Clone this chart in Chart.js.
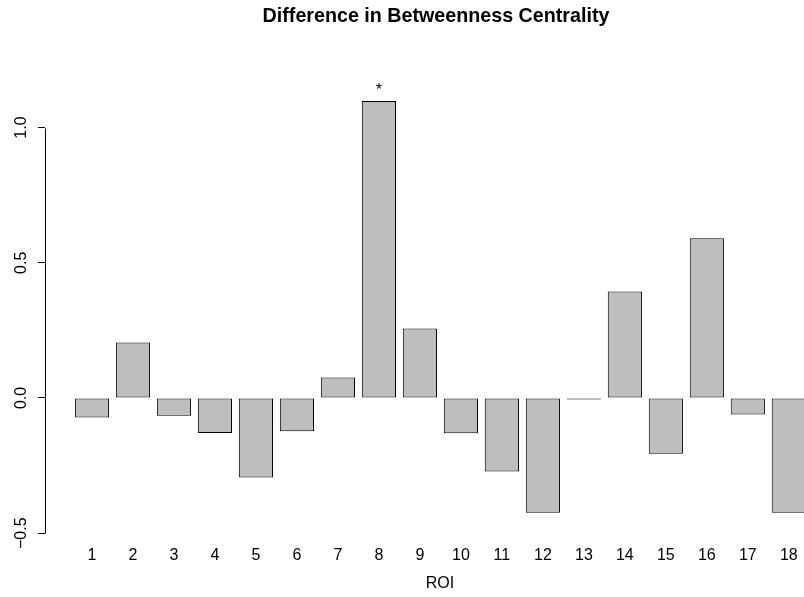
<!DOCTYPE html>
<html>
<head>
<meta charset="utf-8">
<script src="https://cdn.jsdelivr.net/npm/chart.js@4.4.1/dist/chart.umd.min.js"></script>
<style>
  html, body { margin: 0; padding: 0; background: #ffffff; }
  #wrap { width: 804px; height: 597px; }
</style>
</head>
<body>
<div id="wrap"><canvas id="c" width="804" height="597"></canvas></div>
<script>
// ---- data ----
const categories = ['1','2','3','4','5','6','7','8','9','10','11','12','13','14','15','16','17','18'];
const values = [-0.072, 0.205, -0.066, -0.129, -0.294, -0.123, 0.076, 1.098, 0.257, -0.130, -0.272, -0.424, -0.006, 0.394, -0.206, 0.591, -0.061, -0.424];
const marks = ['', '', '', '', '', '', '', '*', '', '', '', '', '', '', '', '', '', ''];
const yTickValues = [-0.5, 0, 0.5, 1.0];
const yTickLabels = ['\u22120.5', '0.0', '0.5', '1.0'];
const chartTitle = 'Difference in Betweenness Centrality';
const xTitle = 'ROI';

const FONT = '"Liberation Sans", Arial, Helvetica, sans-serif';

// R-style axis: line only spans the tick range, rotated tick labels,
// titles centred over the (partly cropped) plot region, significance marks
const rAxisPlugin = {
  id: 'rAxis',
  afterDraw(chart) {
    const ctx = chart.ctx;
    const y = chart.scales.y;
    const x = Math.round(y.right) + 0.5;
    const top = y.getPixelForValue(yTickValues[yTickValues.length - 1]);
    const bot = y.getPixelForValue(yTickValues[0]);
    ctx.save();
    ctx.strokeStyle = '#000';
    ctx.lineWidth = 1;
    ctx.beginPath();
    ctx.moveTo(x, Math.round(top) + 0.5);
    ctx.lineTo(x, Math.round(bot) + 0.5);
    ctx.stroke();
    ctx.fillStyle = '#000';
    ctx.font = '16px ' + FONT;
    ctx.textAlign = 'center';
    ctx.textBaseline = 'middle';
    yTickValues.forEach((v, i) => {
      const py = y.getPixelForValue(v);
      ctx.save();
      ctx.translate(y.right - 23, py);
      ctx.rotate(-Math.PI / 2);
      ctx.fillText(yTickLabels[i], 0, 0);
      ctx.restore();
    });
    // significance marks
    const meta = chart.getDatasetMeta(0);
    ctx.font = '16px ' + FONT;
    ctx.textBaseline = 'alphabetic';
    meta.data.forEach((el, i) => {
      if (marks[i]) {
        const topPx = Math.min(el.y, el.base);
        ctx.fillText(marks[i], el.x, topPx - 6);
      }
    });
    // x-axis title
    ctx.textBaseline = 'middle';
    ctx.fillText(xTitle, 440, 583.5);
    // main title
    ctx.font = 'bold 19.7px ' + FONT;
    ctx.fillText(chartTitle, 436, 17);
    ctx.restore();
  }
};

new Chart(document.getElementById('c'), {
  type: 'bar',
  data: {
    datasets: [{
      data: values.map((v, i) => ({ x: i + 1, y: v })),
      backgroundColor: '#bebebe',
      borderColor: '#000000',
      borderWidth: 1,
      borderSkipped: false,
      categoryPercentage: 1.0,
      barPercentage: 1 / 1.2
    }]
  },
  options: {
    responsive: false,
    animation: false,
    layout: { padding: { left: 38, right: 0, top: 73.5, bottom: 26.6 } },
    plugins: {
      legend: { display: false },
      tooltip: { enabled: false },
      title: { display: false }
    },
    scales: {
      x: {
        type: 'linear',
        min: -0.146,
        max: 18.37,
        offset: false,
        grid: { display: false },
        border: { display: false },
        afterBuildTicks(scale) {
          scale.ticks = categories.map((c, i) => ({ value: i + 1 }));
        },
        ticks: {
          color: '#000',
          font: { family: FONT, size: 16 },
          padding: 5,
          autoSkip: false,
          maxRotation: 0,
          minRotation: 0,
          callback: (v) => categories[Math.round(v) - 1] ?? ''
        },
        title: { display: false }
      },
      y: {
        min: -0.5,
        max: 1.2,
        grid: { drawOnChartArea: false, drawTicks: true, tickLength: 7, color: '#000', lineWidth: 1 },
        border: { display: false },
        afterBuildTicks(scale) {
          scale.ticks = yTickValues.map(v => ({ value: v }));
        },
        ticks: { display: false }
      }
    }
  },
  plugins: [rAxisPlugin]
});
</script>
</body>
</html>
